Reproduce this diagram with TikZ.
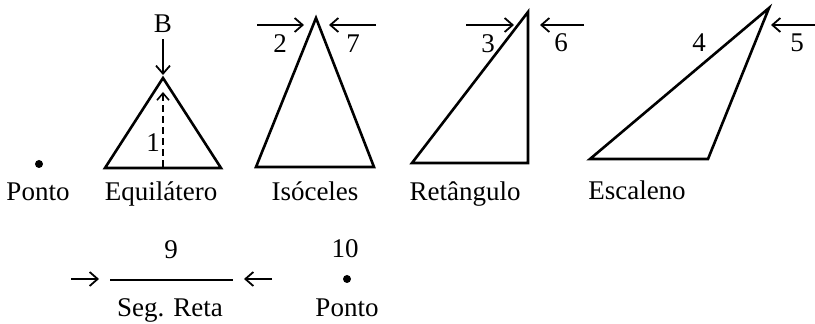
\documentclass[tikz,border=0pt]{standalone}
\usepackage{fontspec}
\setmainfont{Liberation Serif}
\usetikzlibrary{arrows.meta}

\begin{document}
\begin{tikzpicture}[x=0.5pt, y=-0.5pt,
  lbl/.style={font=\fontsize{13.5}{16}\selectfont, inner sep=0pt, anchor=base},
  tri/.style={line width=1.3pt, line join=miter},
  arr/.style={-{Straight Barb[length=4pt, width=7pt]}, line width=0.9pt},
  darr/.style={-{Straight Barb[length=3.5pt, width=6pt]}, line width=0.8pt, dash pattern=on 3.5pt off 2pt},
  dot/.style={circle, fill=black, inner sep=0pt, minimum size=4pt},
]
\useasboundingbox (0,0) rectangle (815,324);

% === Ponto ===
\node[dot] (ponto1) at (39,164) {};
\node[lbl] (ponto1_lbl) at (38,201) {Ponto};

% === Equilatero ===
\coordinate (eq_a) at (105,168);
\coordinate (eq_b) at (221,168);
\coordinate (eq_c) at (163,78);
\draw[tri] (eq_a) -- (eq_b) -- (eq_c) -- cycle;
\coordinate (eq_foot) at (163,167);
\coordinate (eq_top) at (163,92);
\draw[darr] (eq_foot) -- (eq_top);
\node[lbl] (n1) at (153,152) {1};
\node[lbl] (nB) at (163,33) {B};
\draw[arr, shorten <=3pt, shorten >=1.5pt] (nB.south) -- (eq_c);
\node[lbl] (eq_lbl) at (161,201) {Equilátero};

% === Isoceles ===
\coordinate (iso_a) at (256,167);
\coordinate (iso_b) at (374,167);
\coordinate (iso_c) at (316,18);
\draw[tri] (iso_a) -- (iso_b) -- (iso_c) -- cycle;
\coordinate (a2_from) at (257,25);
\coordinate (a2_to) at (304,25);
\draw[arr] (a2_from) -- (a2_to);
\node[lbl] (n2) at (280,53) {2};
\coordinate (a7_from) at (376,25);
\coordinate (a7_to) at (329,25);
\draw[arr] (a7_from) -- (a7_to);
\node[lbl] (n7) at (353,53) {7};
\node[lbl] (iso_lbl) at (315,201) {Isóceles};

% === Retangulo ===
\coordinate (ret_a) at (412,163);
\coordinate (ret_b) at (528,163);
\coordinate (ret_c) at (528,12);
\draw[tri] (ret_a) -- (ret_b) -- (ret_c) -- cycle;
\coordinate (a3_from) at (466,25);
\coordinate (a3_to) at (514,25);
\draw[arr] (a3_from) -- (a3_to);
\node[lbl] (n3) at (488,53) {3};
\coordinate (a6_from) at (584,25);
\coordinate (a6_to) at (540,25);
\draw[arr] (a6_from) -- (a6_to);
\node[lbl] (n6) at (561,52) {6};
\node[lbl] (ret_lbl) at (465,201) {Retângulo};

% === Escaleno ===
\coordinate (esc_a) at (590,159);
\coordinate (esc_b) at (708,159);
\coordinate (esc_c) at (769,8);
\draw[tri] (esc_a) -- (esc_b) -- (esc_c) -- cycle;
\node[lbl] (n4) at (699,52) {4};
\coordinate (a5_from) at (815,25);
\coordinate (a5_to) at (771,25);
\draw[arr] (a5_from) -- (a5_to);
\node[lbl] (n5) at (797,52) {5};
\node[lbl] (esc_lbl) at (637,200) {Escaleno};

% === Segmento de reta ===
\node[lbl] (n9) at (171,259) {9};
\coordinate (seg_a) at (110,280);
\coordinate (seg_b) at (233,280);
\draw[line width=1pt] (seg_a) -- (seg_b);
\coordinate (a8_from) at (71,279);
\coordinate (a8_to) at (99,279);
\draw[arr] (a8_from) -- (a8_to);
\coordinate (a9_from) at (272,279);
\coordinate (a9_to) at (244,279);
\draw[arr] (a9_from) -- (a9_to);
\node[lbl] (seg_lbl) at (170,317) {Seg. Reta};

% === Ponto 10 ===
\node[lbl] (n10) at (345,258) {10};
\node[dot] (ponto2) at (347,279) {};
\node[lbl] (ponto2_lbl) at (347,317) {Ponto};
\end{tikzpicture}
\end{document}
